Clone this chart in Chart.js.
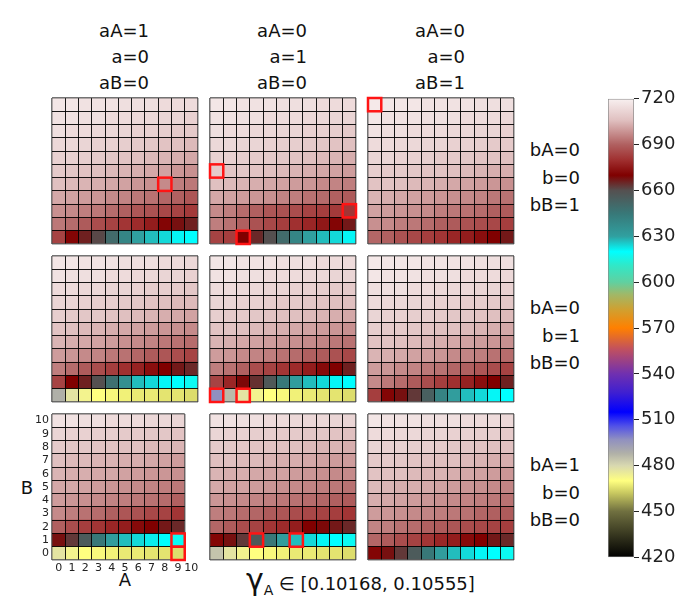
<!DOCTYPE html>
<html>
<head>
<meta charset="utf-8">
<script src="https://cdn.jsdelivr.net/npm/chart.js@4.4.1/dist/chart.umd.min.js"></script>
<style>
  body { margin: 0; width: 698px; height: 612px; background: #fff; position: relative; overflow: hidden;
         font-family: "DejaVu Sans", sans-serif; color: #111; }
  canvas { position: absolute; }
  .col { position: absolute; width: 100px; text-align: right; font-size: 18px; line-height: 26px; }
  .row { position: absolute; width: 100px; text-align: right; font-size: 18px; line-height: 27.5px; }
  .ax { position: absolute; width: 30px; text-align: center; font-size: 18px; line-height: 24px; }
</style>
</head>
<body>
<div class="col" style="left:49px;top:18px">aA=1<br>a=0<br>aB=0</div>
<div class="col" style="left:207px;top:18px">aA=0<br>a=1<br>aB=0</div>
<div class="col" style="left:365px;top:18px">aA=0<br>a=0<br>aB=1</div>
<div class="row" style="left:480px;top:136px">bA=0<br>b=0<br>bB=1</div>
<div class="row" style="left:480px;top:294px">bA=0<br>b=1<br>bB=0</div>
<div class="row" style="left:480px;top:451px">bA=1<br>b=0<br>bB=0</div>
<div class="ax" style="left:12px;top:476px">B</div>
<div class="ax" style="left:110px;top:568px">A</div>
<div style="position:absolute;left:246px;top:565px;white-space:nowrap;font-size:18px;line-height:30px"><span style="font-size:30px">γ</span><span style="font-size:14px;position:relative;top:5px">A</span> ∈ [0.10168, 0.10555]</div>

<script>
// colour scale (value -> colour stops)
const cmapValues = [420, 450, 462, 470, 480, 488, 497, 506, 515, 528, 540, 556, 570, 582, 592, 600, 611, 620, 630, 645, 660, 670, 680, 690, 706, 720];
const cmapColors = ['#000000', '#707040', '#c8c860', '#ffff80', '#d8d8b0', '#b0b0a8', '#9090c0', '#5050e8', '#0000ff', '#4020d0',
  '#7030b0', '#c05060', '#ff8000', '#d0a030', '#a0b868', '#60d0a0', '#30e8c8', '#00ffff', '#30a0a0', '#387878',
  '#555050', '#800000', '#a03030', '#b06060', '#e0c0c0', '#f8f0f0'];
const cbTicks = [420, 450, 480, 510, 540, 570, 600, 630, 660, 690, 720];

const aLabels = ['0', '1', '2', '3', '4', '5', '6', '7', '8', '9', '10'];
const bLabels = ['0', '1', '2', '3', '4', '5', '6', '7', '8', '9', '10'];

// each panel: rows from B=10 (top) down to B=0, columns A=0..10
// row 1: bB=1 / row 2: b=1 / row 3: bA=1 ; col 1: aA=1 / col 2: a=1 / col 3: aB=1
const panel00 = [
  [717, 717, 716, 716, 716, 715, 715, 715, 714, 714, 714],
  [716, 716, 715, 715, 714, 714, 713, 713, 712, 712, 711],
  [715, 714, 714, 713, 713, 712, 711, 711, 710, 709, 709],
  [713, 713, 712, 711, 711, 710, 709, 708, 707, 706, 705],
  [711, 711, 710, 709, 708, 707, 706, 705, 704, 703, 702],
  [709, 708, 707, 706, 705, 704, 703, 702, 701, 699, 698],
  [706, 705, 704, 703, 702, 701, 699, 698, 697, 695, 694],
  [702, 701, 700, 699, 697, 696, 694, 693, 691, 690, 688],
  [698, 697, 695, 694, 692, 690, 688, 687, 685, 684, 682],
  [694, 692, 689, 686, 684, 681, 679, 676, 671, 668, 666],
  [684, 671, 666, 661, 650, 640, 630, 627, 624, 621, 620]
];
const panel01 = [
  [717, 717, 716, 716, 716, 715, 715, 715, 714, 714, 714],
  [716, 716, 715, 715, 714, 714, 714, 713, 713, 712, 712],
  [715, 714, 714, 713, 713, 712, 712, 711, 711, 710, 709],
  [713, 713, 712, 712, 711, 710, 710, 709, 708, 707, 706],
  [711, 711, 710, 709, 709, 708, 707, 706, 705, 704, 703],
  [709, 708, 708, 707, 706, 705, 704, 703, 702, 701, 700],
  [706, 705, 704, 703, 702, 701, 700, 699, 697, 696, 695],
  [702, 701, 700, 699, 698, 696, 695, 693, 692, 690, 689],
  [697, 695, 692, 690, 688, 687, 686, 684, 683, 682, 681],
  [695, 693, 690, 687, 685, 683, 680, 678, 675, 671, 667],
  [684, 683, 670, 665, 660, 650, 640, 630, 627, 624, 621]
];
const panel02 = [
  [718, 717, 717, 717, 716, 716, 716, 716, 715, 715, 715],
  [717, 716, 716, 716, 715, 715, 715, 714, 714, 714, 713],
  [716, 715, 715, 714, 714, 714, 713, 713, 712, 712, 711],
  [714, 714, 713, 713, 712, 712, 711, 711, 710, 709, 709],
  [712, 712, 711, 711, 710, 709, 709, 708, 707, 707, 706],
  [710, 709, 709, 708, 707, 707, 706, 705, 704, 703, 703],
  [707, 707, 706, 705, 704, 703, 702, 701, 700, 699, 698],
  [704, 703, 702, 701, 700, 699, 698, 697, 696, 694, 693],
  [701, 700, 699, 698, 697, 695, 694, 693, 692, 690, 689],
  [698, 697, 695, 694, 692, 690, 689, 687, 686, 685, 683],
  [691, 690, 687, 685, 683, 681, 678, 676, 673, 670, 667]
];
const panel10 = [
  [717, 717, 716, 716, 716, 715, 715, 715, 714, 714, 713],
  [716, 715, 715, 715, 714, 714, 713, 713, 712, 712, 711],
  [714, 714, 713, 713, 712, 712, 711, 710, 710, 709, 708],
  [712, 712, 711, 710, 710, 709, 708, 707, 706, 705, 705],
  [710, 709, 708, 708, 707, 706, 705, 704, 703, 702, 701],
  [707, 706, 705, 704, 703, 702, 701, 700, 699, 698, 697],
  [704, 703, 702, 701, 700, 698, 697, 696, 694, 693, 692],
  [700, 699, 697, 696, 694, 693, 691, 689, 688, 686, 684],
  [695, 692, 689, 686, 683, 680, 677, 673, 670, 667, 665],
  [684, 670, 666, 660, 648, 636, 627, 624, 621, 620, 618],
  [488, 477, 473, 470, 469, 468, 467, 467, 466, 466, 465]
];
const panel11 = [
  [717, 717, 716, 716, 716, 715, 715, 715, 714, 714, 714],
  [716, 716, 715, 715, 714, 714, 714, 713, 713, 712, 712],
  [714, 714, 713, 713, 712, 712, 711, 711, 710, 709, 709],
  [712, 712, 711, 711, 710, 709, 709, 708, 707, 706, 706],
  [710, 709, 709, 708, 707, 706, 706, 705, 704, 703, 702],
  [707, 707, 706, 705, 704, 703, 702, 701, 700, 699, 698],
  [704, 703, 702, 701, 700, 699, 698, 697, 696, 694, 693],
  [700, 699, 697, 696, 695, 693, 692, 690, 689, 687, 685],
  [695, 693, 690, 686, 684, 681, 679, 676, 672, 670, 666],
  [684, 678, 669, 664, 657, 645, 631, 627, 624, 621, 620],
  [497, 486, 477, 473, 470, 469, 468, 467, 466, 466, 465]
];
const panel12 = [
  [718, 717, 717, 717, 716, 716, 716, 716, 715, 715, 715],
  [717, 716, 716, 716, 715, 715, 715, 714, 714, 714, 713],
  [715, 715, 715, 714, 714, 713, 713, 713, 712, 712, 711],
  [714, 713, 713, 712, 712, 711, 711, 710, 710, 709, 708],
  [712, 711, 711, 710, 710, 709, 708, 708, 707, 706, 705],
  [710, 709, 709, 708, 707, 706, 706, 705, 704, 703, 702],
  [707, 707, 706, 705, 704, 703, 702, 701, 700, 699, 698],
  [704, 703, 702, 701, 700, 699, 697, 696, 695, 693, 692],
  [700, 699, 697, 696, 694, 693, 691, 690, 688, 686, 684],
  [697, 694, 692, 689, 686, 683, 680, 677, 673, 670, 666],
  [683, 671, 668, 663, 654, 641, 631, 627, 624, 621, 620]
];
// bottom-left panel has no A=10 column
const panel20 = [
  [716, 716, 715, 715, 714, 714, 714, 713, 713, 712, null],
  [712, 711, 711, 710, 710, 709, 709, 708, 708, 707, null],
  [709, 708, 708, 707, 707, 706, 706, 705, 705, 704, null],
  [706, 705, 705, 704, 704, 703, 703, 702, 701, 700, null],
  [704, 703, 703, 702, 702, 701, 700, 699, 699, 698, null],
  [702, 702, 701, 700, 699, 698, 697, 696, 695, 694, null],
  [700, 699, 698, 697, 696, 695, 694, 693, 692, 690, null],
  [697, 695, 693, 692, 690, 688, 687, 685, 684, 681, null],
  [690, 686, 683, 681, 678, 676, 672, 670, 667, 665, null],
  [668, 663, 656, 645, 631, 627, 624, 622, 620, 618, null],
  [477, 473, 470, 469, 468, 467, 467, 466, 466, 465, null]
];
const panel21 = [
  [716, 716, 715, 715, 714, 714, 713, 713, 713, 712, 712],
  [712, 711, 711, 710, 710, 709, 709, 708, 708, 707, 706],
  [709, 708, 708, 707, 707, 706, 706, 705, 704, 704, 703],
  [706, 706, 705, 705, 704, 703, 703, 702, 701, 700, 700],
  [704, 703, 703, 702, 701, 701, 700, 699, 698, 697, 697],
  [702, 701, 701, 700, 699, 698, 697, 696, 695, 694, 693],
  [699, 698, 697, 696, 695, 694, 693, 692, 691, 690, 689],
  [695, 694, 692, 691, 689, 688, 686, 685, 684, 683, 681],
  [691, 689, 686, 684, 681, 679, 676, 670, 669, 667, 665],
  [671, 668, 663, 657, 645, 631, 627, 624, 621, 620, 618],
  [484, 477, 473, 470, 469, 468, 467, 467, 466, 466, 465]
];
const panel22 = [
  [717, 716, 716, 716, 715, 715, 715, 714, 714, 714, 713],
  [714, 714, 713, 713, 712, 712, 711, 711, 710, 710, 709],
  [712, 711, 711, 710, 710, 709, 708, 708, 707, 706, 706],
  [709, 709, 708, 707, 707, 706, 706, 705, 704, 703, 703],
  [707, 706, 706, 705, 704, 704, 703, 702, 701, 700, 699],
  [705, 704, 703, 703, 702, 701, 700, 699, 698, 697, 696],
  [703, 702, 701, 700, 699, 698, 697, 696, 695, 694, 693],
  [700, 699, 698, 697, 696, 695, 694, 693, 691, 690, 689],
  [696, 695, 693, 692, 690, 689, 688, 686, 685, 684, 683],
  [691, 689, 686, 684, 681, 678, 676, 672, 670, 667, 665],
  [671, 668, 663, 656, 645, 631, 627, 624, 621, 620, 618]
];

// highlighted cells [A, B]
const marked00 = [[8, 4]];
const marked01 = [[0, 5], [10, 2], [2, 0]];
const marked02 = [[0, 10]];
const marked11 = [[0, 0], [2, 0]];
const marked20 = [[9, 1], [9, 0]];
const marked21 = [[3, 1], [6, 1]];

const panelGrids = [[panel00, panel01, panel02], [panel10, panel11, panel12], [panel20, panel21, panel22]];
const panelMarks = [[marked00, marked01, marked02], [[], marked11, []], [marked20, marked21, []]];

// layout
const panelLeft = [52, 210, 368];
const panelTop = [98, 256, 414];
const panelSize = 146;
const cell = panelSize / 11;
const axisW = 40, axisH = 24, pad = 10;

Chart.defaults.font.family = '"DejaVu Sans", sans-serif';
Chart.defaults.color = '#222';

function hexToRgb(h) {
  return [parseInt(h.slice(1, 3), 16), parseInt(h.slice(3, 5), 16), parseInt(h.slice(5, 7), 16)];
}
function colorOf(v) {
  if (v <= cmapValues[0]) return cmapColors[0];
  for (let i = 1; i < cmapValues.length; i++) {
    if (v <= cmapValues[i]) {
      const t = (v - cmapValues[i - 1]) / (cmapValues[i] - cmapValues[i - 1]);
      const c0 = hexToRgb(cmapColors[i - 1]), c1 = hexToRgb(cmapColors[i]);
      const c = c0.map((x, k) => Math.round(x + (c1[k] - x) * t));
      return `rgb(${c[0]},${c[1]},${c[2]})`;
    }
  }
  return cmapColors[cmapColors.length - 1];
}

// red frames round the highlighted cells, placed with the chart's scales
const markPlugin = {
  id: 'marked',
  afterDraw(chart, args, opts) {
    const cells = opts.cells || [];
    if (!cells.length) return;
    const x = chart.scales.x, y = chart.scales.y;
    const ctx = chart.ctx;
    ctx.save();
    ctx.strokeStyle = '#ff1414';
    ctx.lineWidth = 2.5;
    cells.forEach(([a, b]) => {
      const l = x.getPixelForValue(a), r = x.getPixelForValue(a + 1);
      const top = y.getPixelForValue(b + 1), bottom = y.getPixelForValue(b);
      ctx.strokeRect(l, top, r - l, bottom - top);
    });
    ctx.restore();
  }
};

function heatmap(grid, marks, left, top, showTicks) {
  // columns that hold data
  const nCols = grid[0].filter(v => v !== null).length;
  const isEdge = (n) => (ctx) => (ctx.index === 0 || ctx.index === n);
  const canvas = document.createElement('canvas');
  canvas.width = axisW + panelSize + pad;
  canvas.height = pad + panelSize + axisH;
  canvas.style.left = (left - axisW) + 'px';
  canvas.style.top = (top - pad) + 'px';
  document.body.appendChild(canvas);

  // one dataset per B row; each cell is a floating bar spanning [B, B+1], centred on A
  const datasets = bLabels.map((b, bi) => {
    const row = grid[grid.length - 1 - bi];
    const data = [], colors = [];
    row.forEach((v, a) => {
      if (v === null) return;
      data.push({ x: a + 0.5, y: [bi, bi + 1] });
      colors.push(colorOf(v));
    });
    return { data, backgroundColor: colors };
  });

  const xEdge = isEdge(nCols), yEdge = isEdge(11);
  const edgeColor = 'rgba(70,70,70,0.75)', innerColor = 'rgba(0,0,0,0.9)';

  new Chart(canvas, {
    type: 'bar',
    data: { datasets },
    options: {
      responsive: false,
      animation: false,
      layout: { padding: { top: pad, right: pad + (11 - nCols) * cell, left: 0, bottom: 0 } },
      datasets: { bar: { grouped: false, barPercentage: 1, categoryPercentage: 1, borderWidth: 0 } },
      plugins: { legend: { display: false }, tooltip: { enabled: false }, marked: { cells: marks } },
      scales: {
        x: {
          type: 'linear', min: 0, max: nCols, offset: false,
          grid: { offset: false, z: 1, drawTicks: false, color: c => xEdge(c) ? edgeColor : innerColor, lineWidth: c => xEdge(c) ? 1.5 : 1 },
          border: { display: false },
          ticks: {
            display: showTicks, stepSize: 1, autoSkip: false, maxRotation: 0, padding: 2, font: { size: 11 },
            labelOffset: cell / 2,
            callback: (v, i) => i < aLabels.length ? aLabels[i] : ''
          },
          afterFit: s => { s.height = axisH; }
        },
        y: {
          type: 'linear', min: 0, max: 11,
          grid: { z: 1, drawTicks: false, color: c => yEdge(c) ? edgeColor : innerColor, lineWidth: c => yEdge(c) ? 1.5 : 1 },
          border: { display: false },
          ticks: {
            display: showTicks, stepSize: 1, autoSkip: false, padding: 3, font: { size: 11 },
            labelOffset: -cell / 2,
            callback: (v, i) => i < bLabels.length ? bLabels[i] : ''
          },
          afterFit: s => { s.width = axisW; }
        }
      }
    },
    plugins: [markPlugin]
  });
}

panelGrids.forEach((rowGrids, r) => {
  rowGrids.forEach((grid, c) => {
    heatmap(grid, panelMarks[r][c], panelLeft[c], panelTop[r], r === 2 && c === 0);
  });
});

// colour bar
function barGradient(context) {
  const chart = context.chart;
  if (!chart.chartArea || !chart.scales.y) return 'rgba(0,0,0,0)';
  const y = chart.scales.y;
  const first = cmapValues[0], last = cmapValues[cmapValues.length - 1];
  const g = chart.ctx.createLinearGradient(0, y.getPixelForValue(first), 0, y.getPixelForValue(last));
  cmapValues.forEach((v, i) => g.addColorStop((v - first) / (last - first), cmapColors[i]));
  return g;
}

const cb = document.createElement('canvas');
cb.width = 98;
cb.height = 484;
cb.style.left = '600px';
cb.style.top = '86px';
document.body.appendChild(cb);

new Chart(cb, {
  type: 'bar',
  data: {
    labels: [''],
    datasets: [{
      data: [[cbTicks[0], cbTicks[cbTicks.length - 1]]],
      backgroundColor: barGradient,
      borderColor: '#888',
      borderWidth: 1,
      borderSkipped: false,
      barPercentage: 1,
      categoryPercentage: 1
    }]
  },
  options: {
    responsive: false,
    animation: false,
    layout: { padding: { left: 8, top: 12, bottom: 12, right: 0 } },
    plugins: { legend: { display: false }, tooltip: { enabled: false } },
    scales: {
      x: { display: false },
      y: {
        position: 'right', min: cbTicks[0], max: cbTicks[cbTicks.length - 1],
        grid: { drawOnChartArea: false, tickLength: 5, color: '#222' },
        border: { display: false },
        ticks: { stepSize: 30, padding: 2, font: { size: 18 }, color: '#222' },
        afterFit: s => { s.width = 64; }
      }
    }
  }
});
</script>
</body>
</html>
